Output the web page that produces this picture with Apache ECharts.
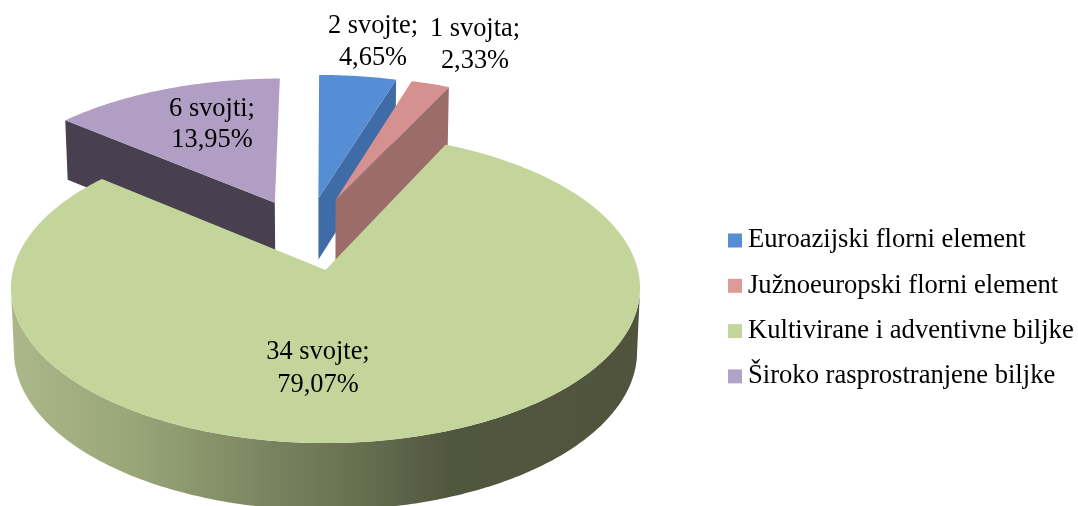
<!DOCTYPE html>
<html>
<head>
<meta charset="utf-8">
<style>html,body{margin:0;padding:0;background:#fff}#c{width:1078px;height:506px}</style>
<script src="https://cdn.jsdelivr.net/npm/echarts@6/dist/echarts.min.js"></script>
</head>
<body>
<div id="c"></div>
<script>
const categories = ['Euroazijski florni element', 'Južnoeuropski florni element', 'Kultivirane i adventivne biljke', 'Široko rasprostranjene biljke'];
const speciesCounts = [2, 1, 34, 6];
const speciesWords = ['svojte', 'svojta', 'svojte', 'svojti'];

const FONT = '"Liberation Serif","Times New Roman",serif';
const total = speciesCounts.reduce((s, v) => s + v, 0);

// Perspective of the pie plane
const cx = 325, cy = 270, k = 0.116;
const topFace = {a: 312.4, b: 153, c: 0, d: 0.5};
const lowFace = {a: 309.5, b: 156.6, c: 63, d: 0.5};

// Per slice look: explosion in plane units, colours, which side wall shows, label anchor
const looks = [
  {ex: -0.024, ey: -0.496, face: '#558ed5', wall: '#3f6ca6', edge: 'end', z: 2, lx: 373, ly: 42, lh: 32},
  {ex: 0.034, ey: -0.483, face: '#d5918f', wall: '#9b6c6a', edge: 'end', z: 3, lx: 475, ly: 45, lh: 32},
  {ex: 0, ey: 0, face: '#c3d59b', edge: 'arc', z: 4, lx: 318, ly: 369, lh: 33},
  {ex: -0.171, ey: -0.4635, face: '#b09ec4', wall: '#48404f', edge: 'start', z: 1, lx: 212, ly: 125, lh: 31}
];
const swatches = ['#558ed5', '#dc9a98', '#c3d69b', '#b2a2c7'];
const arcWallFill = {
  type: 'linear', x: 0, y: 0, x2: 1, y2: 0,
  colorStops: [
    {offset: 0, color: '#adb88a'},
    {offset: 0.2, color: '#98a577'},
    {offset: 0.42, color: '#79825f'},
    {offset: 0.56, color: '#666e50'},
    {offset: 0.7, color: '#51563e'},
    {offset: 1, color: '#50543d'}
  ]
};

function slicePoint(face, look, theta, r) {
  const X = look.ex + r * Math.sin(theta);
  const Y = look.ey - r * Math.cos(theta);
  const d = 1 - k * Y;
  return [cx + face.d + face.a * X / d, cy + face.c + face.b * Y / d];
}
function arc(face, look, from, to) {
  const n = Math.max(2, Math.ceil(Math.abs(to - from) / (Math.PI / 240)));
  const out = [];
  for (let j = 0; j <= n; j++) out.push(slicePoint(face, look, from + (to - from) * j / n, 1));
  return out;
}
function percentText(v) {
  return (v / total * 100).toFixed(2).replace('.', ',') + '%';
}

function makeRender(i) {
  return function (params, api) {
    const value = api.value(0);
    let before = 0;
    for (let j = 0; j < i; j++) before += speciesCounts[j];
    const start = before / total * 2 * Math.PI;
    const end = (before + value) / total * 2 * Math.PI;
    const look = looks[i];
    const children = [];
    const polygon = (points, fill) => ({type: 'polygon', shape: {points}, style: {fill}});

    if (look.edge === 'arc') {
      const from = Math.max(start, 97 * Math.PI / 180);
      const to = Math.min(end, 263 * Math.PI / 180);
      const upper = arc(topFace, look, from, to);
      const lower = arc(lowFace, look, to, from);
      children.push(polygon(upper.concat(lower), arcWallFill));
    } else {
      const t = look.edge === 'end' ? end : start;
      children.push(polygon([
        slicePoint(topFace, look, t, 0), slicePoint(topFace, look, t, 1),
        slicePoint(lowFace, look, t, 1), slicePoint(lowFace, look, t, 0)
      ], look.wall));
    }
    children.push(polygon([slicePoint(topFace, look, 0, 0)].concat(arc(topFace, look, start, end)), look.face));
    children.push({
      type: 'text', z2: 10,
      style: {
        x: look.lx, y: look.ly,
        text: value + ' ' + speciesWords[i] + ';\n' + percentText(value),
        font: '26.4px ' + FONT, fill: '#000', align: 'center', verticalAlign: 'middle', lineHeight: look.lh
      }
    });
    return {type: 'group', children};
  };
}

const chart = echarts.init(document.getElementById('c'), null, {renderer: 'canvas'});
chart.setOption({
  animation: false,
  backgroundColor: '#fff',
  legend: {
    orient: 'vertical', left: 723, top: 222,
    itemWidth: 14, itemHeight: 14, itemGap: 18.3, icon: 'rect',
    data: categories,
    selectedMode: false,
    textStyle: {fontFamily: FONT, fontSize: 26.6, color: '#000', padding: [0, 0, 0, 1], lineHeight: 23}
  },
  series: categories.map((name, i) => ({
    type: 'custom', name, z: looks[i].z, coordinateSystem: 'none', silent: true,
    itemStyle: {color: swatches[i]},
    renderItem: makeRender(i),
    data: [[speciesCounts[i]]]
  }))
});
</script>
</body>
</html>
